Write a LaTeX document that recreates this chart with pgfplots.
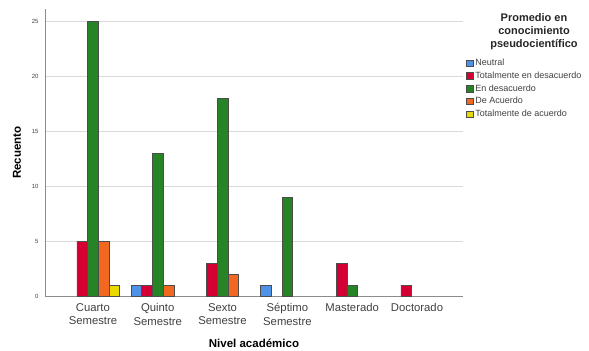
\documentclass[border=0pt]{standalone}
\usepackage{pgfplots}
\pgfplotsset{compat=1.18}
\usepackage{fontspec}
\setmainfont{Liberation Sans}
\definecolor{cNeu}{RGB}{77,146,230}
\definecolor{cTed}{RGB}{212,0,52}
\definecolor{cEnd}{RGB}{38,132,38}
\definecolor{cDea}{RGB}{242,104,32}
\definecolor{cTda}{RGB}{232,218,0}
\definecolor{gridc}{RGB}{218,218,218}
\definecolor{axc}{RGB}{140,140,140}
\begin{document}
\begin{tikzpicture}
\begin{axis}[
  scale only axis, width=418pt, height=287pt,
  ybar=0pt, bar width=0.165,
  xmin=-0.74, xmax=5.71, ymin=0, ymax=26.1,
  axis x line*=bottom, axis y line*=left,
  axis line style={draw=axc, line width=0.9pt, -},
  xtick={0,1,2,3,4,5},
  xticklabels={{Cuarto\\Semestre},{Quinto\\Semestre},{Sexto\\Semestre},{Séptimo\\Semestre},{Masterado},{Doctorado}},
  xticklabel style={align=center, font=\fontsize{11.3}{13.3}\selectfont, text=black!75, anchor=north, yshift=-4pt},
  ytick={0,5,10,15,20,25},
  yticklabel style={font=\fontsize{6}{7}\selectfont, text=black!75, xshift=-3pt},
  /pgf/number format/assume math mode=true,
  major tick length=0pt,
  ymajorgrids, grid style={draw=gridc, line width=0.8pt},
  xlabel={\bfseries Nivel académico},
  xlabel style={font=\fontsize{11.5}{12}\selectfont, at={(axis description cs:0.5,0)}, anchor=center, yshift=-47pt},
  ylabel={\bfseries Recuento},
  ylabel style={font=\fontsize{11.5}{12}\selectfont, at={(axis description cs:0,0.5)}, anchor=center, rotate=0, yshift=28pt},
  every axis plot/.append style={draw=black!70, line width=0.6pt},
  legend style={at={(axis description cs:1,1)}, anchor=north west, xshift=3pt, yshift=-48pt,
    draw=none, fill=none, font=\fontsize{9}{10}\selectfont, inner sep=0pt, row sep=0.7pt,
    cells={anchor=west, text=black!75}},
  legend image code/.code={\draw[#1, line width=0.5pt] (0pt,-3.3pt) rectangle (6.6pt,3.3pt);},
]
\addplot[fill=cNeu] coordinates {(1,1) (3,1)};
\addplot[fill=cTed] coordinates {(0,5) (1,1) (2,3) (4,3) (5,1)};
\addplot[fill=cEnd] coordinates {(0,25) (1,13) (2,18) (3,9) (4,1)};
\addplot[fill=cDea] coordinates {(0,5) (1,1) (2,2)};
\addplot[fill=cTda] coordinates {(0,1)};
\legend{Neutral, Totalmente en desacuerdo, En desacuerdo, De Acuerdo, Totalmente de acuerdo}
\end{axis}
\node[align=center, font=\fontsize{11}{13}\selectfont\bfseries, text=black!85] at (489pt,264pt) {Promedio en\\conocimiento\\pseudocientífico};
\useasboundingbox (-45pt,-53pt) rectangle (544pt,296pt);
\end{tikzpicture}
\end{document}
